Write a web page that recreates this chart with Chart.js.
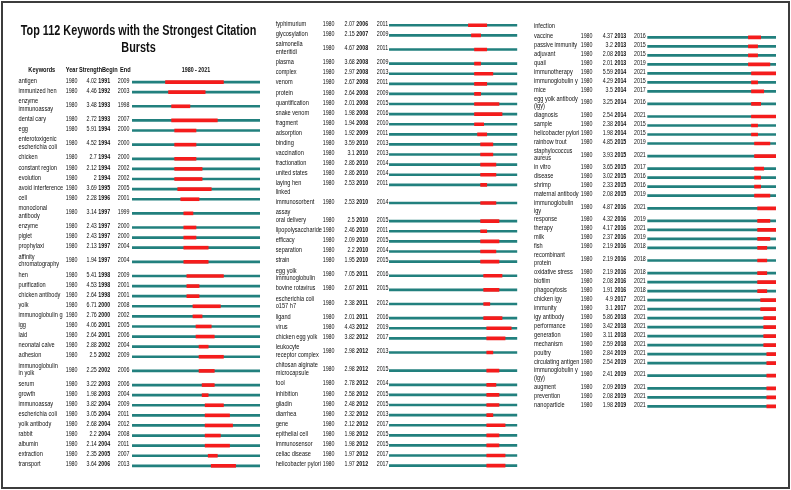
<!DOCTYPE html>
<html>
<head>
<meta charset="utf-8">
<script src="https://cdn.jsdelivr.net/npm/chart.js@4.4.1/dist/chart.umd.min.js"></script>
<style>
  html, body { margin: 0; padding: 0; background: #fff; }
  #page { position: relative; width: 791px; height: 490px; overflow: hidden; background: #fff; }
  #page canvas { position: absolute; left: 0; top: 0; }
  #frame { position: absolute; left: 1px; top: 1px; width: 785px; height: 484px; border: 2px solid #3c3c3c; pointer-events: none; }
</style>
</head>
<body>
<div id="page">
  <canvas id="col0" width="791" height="490"></canvas>
  <canvas id="col1" width="791" height="490"></canvas>
  <canvas id="col2" width="791" height="490"></canvas>
  <div id="frame"></div>
</div>
<script>
/* ── Data ── */
const TITLE       = ["Top 112 Keywords with the Strongest Citation", "Bursts"];
const HEADERS     = ["Keywords", "Year", "Strength", "Begin", "End"];
const START_YEAR  = 1980;
const END_YEAR    = 2021;
const RANGE_LABEL = "1980 - 2021";
const CARRY_OVER  = "infection";          // orphan wrapped line at top of column 3
const COLUMN_SIZES = [35, 39, 38];

const keywords = [
  // column 1
  "antigen", "immunized hen", "enzyme\nimmunoassay", "dental cary", "egg",
  "enterotoxigenic\nescherichia coli", "chicken", "constant region", "evolution",
  "avoid interference", "cell", "monoclonal\nantibody", "enzyme", "piglet", "prophylaxi",
  "affinity\nchromatography", "hen", "purification", "chicken antibody", "yolk",
  "immunoglobulin g", "igg", "laid", "neonatal calve", "adhesion", "immunoglobulin\nin yolk",
  "serum", "growth", "immunoassay", "escherichia coli", "yolk antibody", "rabbit",
  "albumin", "extraction", "transport",
  // column 2
  "typhimurium", "glycosylation", "salmonella\nenteritidi", "plasma", "complex", "venom",
  "protein", "quantification", "snake venom", "fragment", "adsorption", "binding",
  "vaccination", "fractionation", "united states", "laying hen", "linked\nimmunosorbent\nassay",
  "oral delivery", "lipopolysaccharide", "efficacy", "separation", "strain",
  "egg yolk\nimmunoglobulin", "bovine rotavirus", "escherichia coli\no157 h7", "ligand",
  "virus", "chicken egg yolk", "leukocyte\nreceptor complex", "chitosan alginate\nmicrocapsule",
  "tool", "inhibition", "gliadin", "diarrhea", "gene", "epithelial cell", "immunosensor",
  "celiac disease", "helicobacter pylori",
  // column 3
  "vaccine", "passive immunity", "adjuvant", "quail", "immunotherapy", "immunoglobulin y",
  "mice", "egg yolk antibody\n(igy)", "diagnosis", "sample", "helicobacter pylori",
  "rainbow trout", "staphylococcus\naureus", "in vitro", "disease", "shrimp",
  "maternal antibody", "immunoglobulin\nigy", "response", "therapy", "milk", "fish",
  "recombinant\nprotein", "oxidative stress", "biofilm", "phagocytosis", "chicken igy",
  "immunity", "igy antibody", "performance", "generation", "mechanism", "poultry",
  "circulating antigen", "immunoglobulin y\n(igy)", "augment", "prevention", "nanoparticle"
];

const strength = [
  4.02, 4.46, 3.48, 2.72, 5.91, 4.52, 2.7, 2.12, 2, 3.69, 2.28, 3.14, 2.43, 2.43, 2.13,
  1.94, 5.41, 4.53, 2.64, 6.71, 2.76, 4.06, 2.64, 2.88, 2.5, 2.25, 3.22, 1.98, 3.82, 3.05,
  2.68, 2.2, 2.14, 2.35, 3.64,
  2.07, 2.15, 4.67, 3.68, 2.97, 2.67, 2.64, 2.01, 1.98, 1.94, 1.92, 3.59, 3.1, 2.86, 2.86,
  2.53, 2.53, 2.5, 2.46, 2.09, 2.2, 1.95, 7.05, 2.67, 2.38, 2.01, 4.43, 3.82, 2.98, 2.98,
  2.78, 2.58, 2.48, 2.32, 2.12, 1.98, 1.98, 1.97, 1.97,
  4.37, 3.2, 2.08, 2.01, 5.59, 4.29, 3.5, 3.25, 2.54, 2.38, 1.98, 4.85, 3.93, 3.65, 3.02,
  2.33, 2.08, 4.87, 4.32, 4.17, 2.37, 2.19, 2.19, 2.19, 2.08, 1.91, 4.9, 3.1, 5.86, 3.42,
  3.11, 2.59, 2.84, 2.54, 2.41, 2.09, 2.08, 1.98
];

const burstBegin = [
  1991, 1992, 1993, 1993, 1994, 1994, 1994, 1994, 1994, 1995, 1996, 1997, 1997, 1997, 1997,
  1997, 1998, 1998, 1998, 2000, 2000, 2001, 2001, 2002, 2002, 2002, 2003, 2003, 2004, 2004,
  2004, 2004, 2004, 2005, 2006,
  2006, 2007, 2008, 2008, 2008, 2008, 2008, 2008, 2008, 2008, 2009, 2010, 2010, 2010, 2010,
  2010, 2010, 2010, 2010, 2010, 2010, 2010, 2011, 2011, 2011, 2011, 2012, 2012, 2012, 2012,
  2012, 2012, 2012, 2012, 2012, 2012, 2012, 2012, 2012,
  2013, 2013, 2013, 2013, 2014, 2014, 2014, 2014, 2014, 2014, 2014, 2015, 2015, 2015, 2015,
  2015, 2015, 2016, 2016, 2016, 2016, 2016, 2016, 2016, 2016, 2016, 2017, 2017, 2018, 2018,
  2018, 2018, 2019, 2019, 2019, 2019, 2019, 2019
];

const burstEnd = [
  2009, 2003, 1998, 2007, 2000, 2000, 2000, 2002, 2002, 2005, 2001, 1999, 2000, 2000, 2004,
  2004, 2009, 2001, 2001, 2008, 2002, 2005, 2006, 2004, 2009, 2006, 2006, 2004, 2009, 2011,
  2012, 2008, 2011, 2007, 2013,
  2011, 2009, 2011, 2009, 2013, 2011, 2009, 2015, 2016, 2010, 2011, 2013, 2013, 2014, 2014,
  2011, 2014, 2015, 2011, 2015, 2014, 2015, 2016, 2015, 2012, 2016, 2019, 2017, 2013, 2015,
  2014, 2015, 2015, 2013, 2017, 2015, 2015, 2017, 2017,
  2016, 2015, 2015, 2019, 2021, 2015, 2017, 2016, 2021, 2015, 2015, 2019, 2021, 2017, 2016,
  2016, 2019, 2021, 2019, 2021, 2019, 2018, 2018, 2018, 2021, 2018, 2021, 2021, 2021, 2021,
  2021, 2021, 2021, 2021, 2021, 2021, 2021, 2021
];

/* ── Styles & layout ── */
const GREEN = "#22807e";
const RED   = "#f41c1c";
const INK   = "#111";
const FONT  = '"Liberation Sans", Arial, sans-serif';
const BODY_PX = 7.6;
const SX_TEXT = 0.74;   // horizontal squeeze to mimic the condensed face
const SX_NUM  = 0.70;

// one entry per column: row unit height, first row top, text column x positions, line extent
const LAYOUT = [
  { top: 77.0, unit: 10.1, label: 18.5, year: 65.7, strR: 96.8, begin: 98.3, end: 117.7, lineL: 132.0, lineR: 260.0 },
  { top: 20.2, unit: 10.1, label: 275.7, year: 322.7, strR: 354.8, begin: 356.3, end: 376.7, lineL: 389.0, lineR: 517.3 },
  { top: 32.8, unit: 9.0,  label: 534.0, year: 580.7, strR: 613.0, begin: 614.5, end: 634.0, lineL: 647.3, lineR: 776.0 }
];
const TEXT_DY = -1.5;

/* ── Helpers ── */
function squeezeText(ctx, text, x, y, align, sx) {
  const w = ctx.measureText(text).width * sx;
  const left = align === "right" ? x - w : align === "center" ? x - w / 2 : x;
  ctx.save();
  ctx.translate(left, y);
  ctx.scale(sx, 1);
  ctx.textAlign = "left";
  ctx.fillText(text, 0, 0);
  ctx.restore();
}

function columnRows(c) {
  const first = COLUMN_SIZES.slice(0, c).reduce((a, b) => a + b, 0);
  let cum = 0;
  const rows = [];
  for (let i = first; i < first + COLUMN_SIZES[c]; i++) {
    const lines = keywords[i].split("\n");
    const h = 1 + 0.8 * (lines.length - 1);
    rows.push({ i, lines, center: cum + h / 2 });
    cum += h;
  }
  return { rows, total: cum };
}

function tablePlugin(c, rows) {
  const L = LAYOUT[c];
  return {
    id: "burstTable" + c,
    afterDraw(chart) {
      const ctx = chart.ctx;
      const yS  = chart.scales.y;
      ctx.save();
      ctx.fillStyle = INK;
      ctx.textBaseline = "middle";

      if (c === 0) {
        ctx.font = `bold 14px ${FONT}`;
        squeezeText(ctx, TITLE[0], 138.5, 31.5, "center", 0.775);
        squeezeText(ctx, TITLE[1], 138.5, 48, "center", 0.775);

        ctx.font = `bold ${BODY_PX}px ${FONT}`;
        squeezeText(ctx, HEADERS[0], 41.8, 70, "center", SX_TEXT);
        squeezeText(ctx, HEADERS[1], 65.7, 70, "left", SX_TEXT);
        squeezeText(ctx, HEADERS[2], 79.0, 70, "left", SX_TEXT);
        squeezeText(ctx, HEADERS[3], 102.0, 70, "left", SX_TEXT);
        squeezeText(ctx, HEADERS[4], 120.0, 70, "left", SX_TEXT);
        squeezeText(ctx, RANGE_LABEL, (L.lineL + L.lineR) / 2, 70, "center", SX_NUM);
      }
      if (c === 2) {
        ctx.font = `${BODY_PX}px ${FONT}`;
        squeezeText(ctx, CARRY_OVER, L.label, yS.getPixelForValue(0) - 6.5, "left", SX_TEXT);
      }

      rows.forEach(r => {
        const y = yS.getPixelForValue(r.center) + TEXT_DY;
        const n = r.lines.length;
        const gap = n === 3 ? 10 : 7.6;
        ctx.font = `${BODY_PX}px ${FONT}`;
        r.lines.forEach((t, k) => squeezeText(ctx, t, L.label, y + (k - (n - 1) / 2) * gap, "left", SX_TEXT));
        squeezeText(ctx, String(START_YEAR), L.year, y, "left", SX_NUM);
        squeezeText(ctx, String(strength[r.i]), L.strR, y, "right", SX_NUM);
        squeezeText(ctx, String(burstEnd[r.i]), L.end, y, "left", SX_NUM);
        ctx.font = `bold ${BODY_PX}px ${FONT}`;
        squeezeText(ctx, String(burstBegin[r.i]), L.begin, y, "left", SX_NUM);
      });
      ctx.restore();
    }
  };
}

/* ── Charts ── */
COLUMN_SIZES.forEach((_, c) => {
  const L = LAYOUT[c];
  const { rows, total } = columnRows(c);
  const height = total * L.unit;

  new Chart(document.getElementById("col" + c), {
    type: "bar",
    data: {
      datasets: [
        {
          label: "burst",
          data: rows.map(r => ({ x: [burstBegin[r.i], burstEnd[r.i] + 1], y: r.center })),
          backgroundColor: RED,
          barThickness: 3,
          grouped: false,
          order: 0
        },
        {
          label: "span",
          data: rows.map(r => ({ x: [START_YEAR, END_YEAR + 1], y: r.center })),
          backgroundColor: GREEN,
          barThickness: 2,
          grouped: false,
          order: 1
        }
      ]
    },
    options: {
      indexAxis: "y",
      responsive: false,
      animation: false,
      events: [],
      layout: {
        padding: { left: L.lineL, right: 791 - L.lineR, top: L.top, bottom: 490 - L.top - height }
      },
      scales: {
        x: { type: "linear", min: START_YEAR, max: END_YEAR + 1, offset: false, display: false },
        y: { type: "linear", min: 0, max: total, reverse: true, offset: false, display: false }
      },
      plugins: { legend: { display: false }, tooltip: { enabled: false } }
    },
    plugins: [tablePlugin(c, rows)]
  });
});
</script>
</body>
</html>
